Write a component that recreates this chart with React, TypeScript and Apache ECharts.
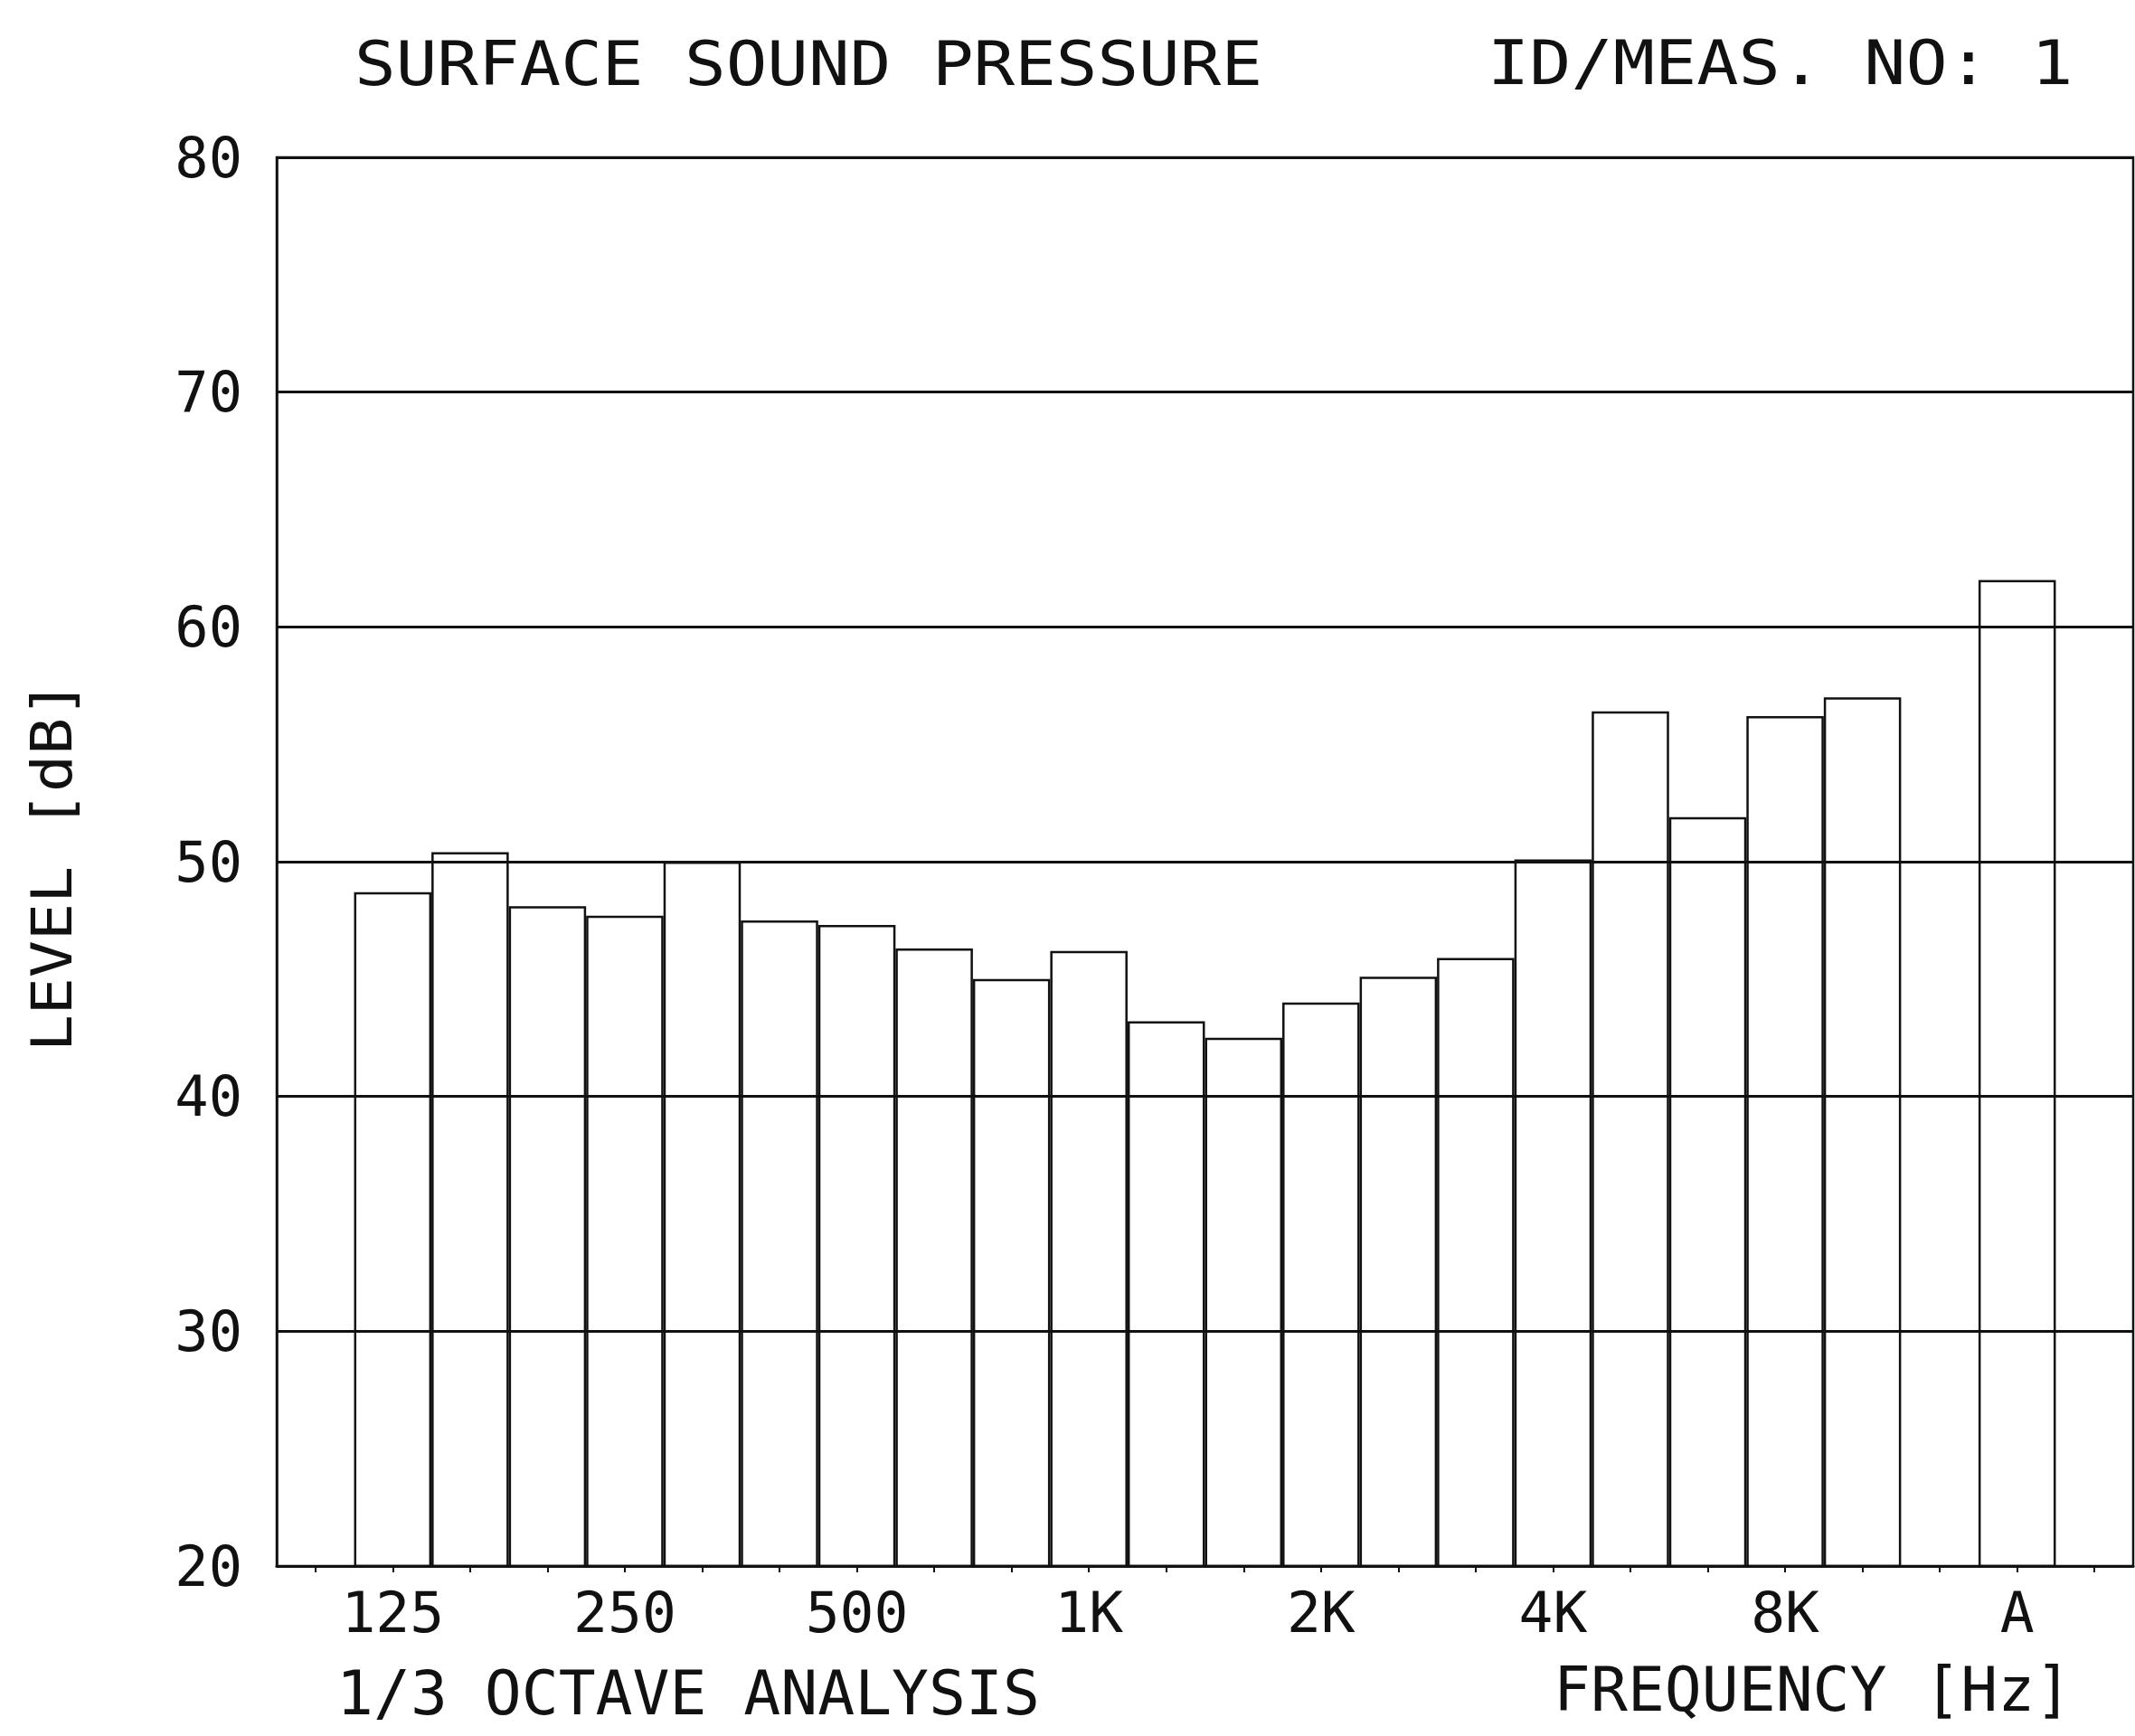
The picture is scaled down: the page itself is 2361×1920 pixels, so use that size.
import React, { useEffect, useRef } from 'react';
import * as echarts from 'echarts';

// 1/3 octave bands (slot 0 and the slot before "A" are empty, last slot is empty)
const bands = ['100', '125', '160', '200', '250', '315', '400', '500', '630', '800', '1K', '1.25K', '1.6K', '2K', '2.5K', '3.15K', '4K', '5K', '6.3K', '8K', '10K', ' ', 'A', '  '];
const levels = [null, 48.7, 50.4, 48.1, 47.7, 50.0, 47.5, 47.3, 46.3, 45.0, 46.2, 43.2, 42.5, 44.0, 45.1, 45.9, 50.1, 56.4, 51.9, 56.2, 57.0, null, 62.0, null];
const shownTicks = ['125', '250', '500', '1K', '2K', '4K', '8K', 'A'];
const yMin = 20;
const yMax = 80;
const yStep = 10;

const titleText = 'SURFACE SOUND PRESSURE';
const idText = 'ID/MEAS. NO: 1';
const analysisText = '1/3 OCTAVE ANALYSIS';
const xName = 'FREQUENCY [Hz]';
const yName = 'LEVEL [dB]';

const FONT = '"DejaVu Sans Mono", "Liberation Mono", monospace';
const INK = '#111';

export default function App() {
  const ref = useRef<HTMLDivElement>(null);
  useEffect(() => {
    const chart = echarts.init(ref.current as HTMLDivElement, null, { renderer: 'svg' });
    chart.setOption({
      animation: false,
      backgroundColor: '#ffffff',
      grid: {
        left: 306,
        right: 2,
        top: 174,
        bottom: 188,
        show: true,
        borderColor: INK,
        borderWidth: 2.5,
        backgroundColor: 'transparent',
      },
      xAxis: {
        type: 'category',
        data: bands,
        boundaryGap: true,
        axisLine: { show: true, lineStyle: { color: INK, width: 3 } },
        axisTick: { show: true, alignWithLabel: true, interval: 0, length: 7, lineStyle: { color: INK, width: 2 } },
        axisLabel: {
          interval: 0,
          margin: 20,
          color: INK,
          fontFamily: FONT,
          fontSize: 63,
          formatter: (v: string) => (shownTicks.indexOf(v) >= 0 ? v : ''),
        },
        splitLine: { show: false },
      },
      yAxis: {
        type: 'value',
        min: yMin,
        max: yMax,
        interval: yStep,
        axisLine: { show: true, lineStyle: { color: INK, width: 2.5 } },
        axisTick: { show: false },
        axisLabel: { margin: 38, color: INK, fontFamily: FONT, fontSize: 62 },
        splitLine: { show: true, lineStyle: { color: INK, width: 3 } },
      },
      series: [
        {
          type: 'bar',
          data: levels,
          barCategoryGap: '0%',
          itemStyle: { color: 'rgba(0,0,0,0)', borderColor: INK, borderWidth: 2.5 },
          emphasis: { disabled: true },
        },
      ],
      graphic: [
        {
          type: 'text',
          x: 392,
          y: 70,
          scaleX: 1.115,
          style: { text: titleText, fontFamily: FONT, fontSize: 68, fill: INK, align: 'left', verticalAlign: 'middle', textAlign: 'left', textVerticalAlign: 'middle' },
        },
        {
          type: 'text',
          x: 1645,
          y: 70,
          scaleX: 1.13,
          style: { text: idText, fontFamily: FONT, fontSize: 68, fill: INK, align: 'left', verticalAlign: 'middle', textAlign: 'left', textVerticalAlign: 'middle' },
        },
        {
          type: 'text',
          x: 372,
          y: 1872,
          scaleX: 1.0,
          style: { text: analysisText, fontFamily: FONT, fontSize: 68, fill: INK, align: 'left', verticalAlign: 'middle', textAlign: 'left', textVerticalAlign: 'middle' },
        },
        {
          type: 'text',
          x: 1718,
          y: 1868,
          scaleX: 1.0,
          style: { text: xName, fontFamily: FONT, fontSize: 68, fill: INK, align: 'left', verticalAlign: 'middle', textAlign: 'left', textVerticalAlign: 'middle' },
        },
        {
          type: 'text',
          x: 58,
          y: 958,
          rotation: Math.PI / 2,
          scaleX: 1.1,
          style: { text: yName, fontFamily: FONT, fontSize: 62, fill: INK, align: 'center', verticalAlign: 'middle', textAlign: 'center', textVerticalAlign: 'middle' },
        },
      ],
    });
    return () => chart.dispose();
  }, []);
  return (
    <div
      ref={ref}
      style={{ position: 'fixed', left: 0, top: 0, width: 2361, height: 1920, background: '#fff' }}
    />
  );
}
